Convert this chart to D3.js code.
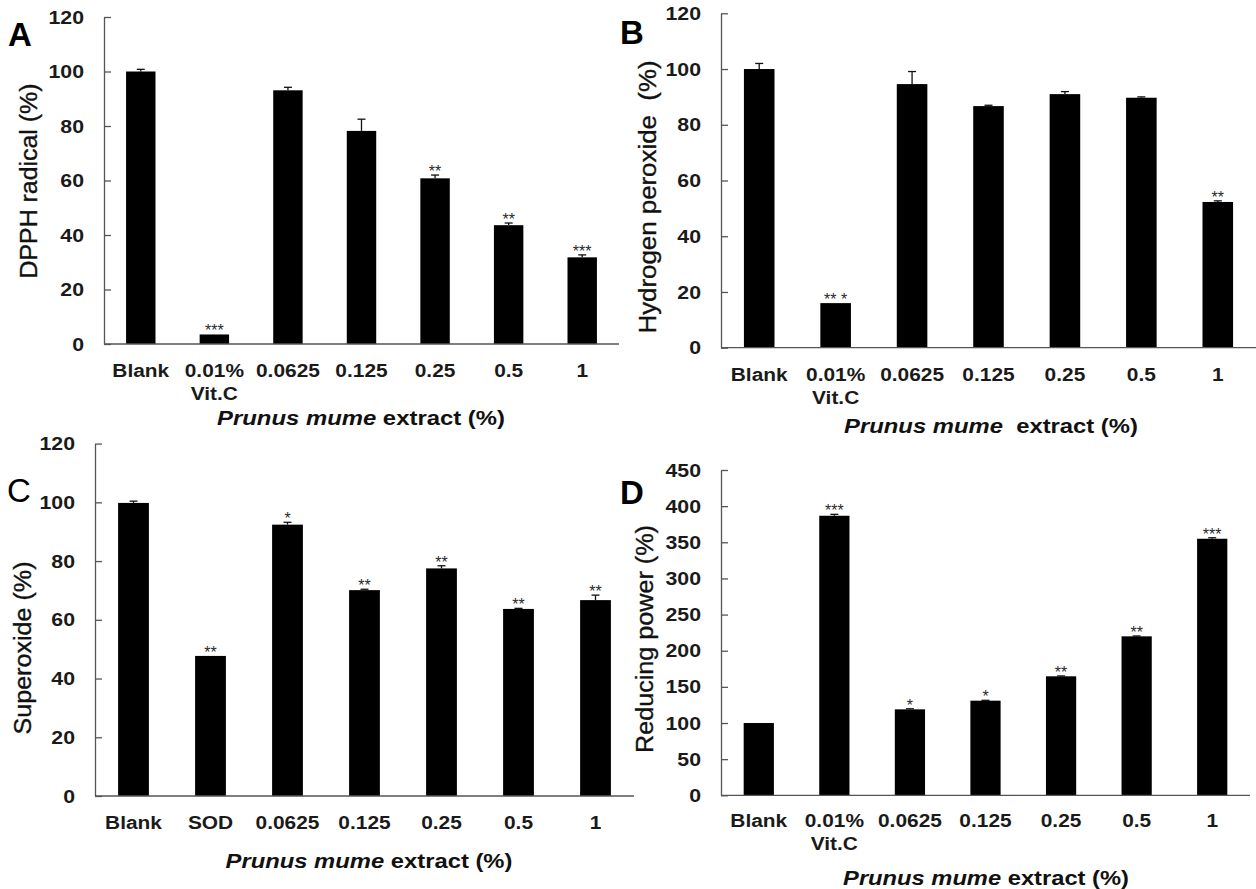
<!DOCTYPE html>
<html>
<head>
<meta charset="utf-8">
<script src="https://cdn.jsdelivr.net/npm/d3@7"></script>
<style>
  body { margin: 0; background: #fff; }
  svg { display: block; font-family: "Liberation Sans", Arial, sans-serif; }
</style>
</head>
<body>
<div id="chart"></div>
<script>
// categories
const labelsVitC = ["Blank", "0.01%\nVit.C", "0.0625", "0.125", "0.25", "0.5", "1"];
const labelsSOD = ["Blank", "SOD", "0.0625", "0.125", "0.25", "0.5", "1"];

// A - DPPH radical
const dpphValues = [100, 3.5, 93.1, 78.2, 60.8, 43.6, 31.8];
const dpphErrors = [0.8, 0, 1.1, 4.3, 1.2, 0.8, 0.9];
const dpphStars = ["", "***", "", "", "**", "**", "***"];

// B - hydrogen peroxide
const h2o2Values = [100, 16, 94.6, 86.7, 91.0, 89.7, 52.3];
const h2o2Errors = [2.0, 0, 4.5, 0.3, 0.9, 0.3, 0.4];
const h2o2Stars = ["", "** *", "", "", "", "", "**"];

// C - superoxide
const superoxideValues = [99.8, 47.7, 92.4, 70.1, 77.5, 63.7, 66.7];
const superoxideErrors = [0.6, 0, 0.8, 0.3, 0.9, 0.2, 1.7];
const superoxideStars = ["", "**", "*", "**", "**", "**", "**"];

// D - reducing power
const reducingValues = [100, 386.7, 118.9, 130.9, 164.6, 219.9, 354.9];
const reducingErrors = [0, 2.0, 0.8, 0.5, 0.5, 0.5, 1.4];
const reducingStars = ["", "***", "*", "*", "**", "**", "***"];

// tick labels
const ticks120 = [0, 20, 40, 60, 80, 100, 120];
const ticks450 = [0, 50, 100, 150, 200, 250, 300, 350, 400, 450];

const svg = d3.select("#chart").append("svg")
    .attr("width", 1256)
    .attr("height", 889);

svg.append("rect").attr("width", 1256).attr("height", 889).attr("fill", "#fff");

// stretch a text group horizontally so it covers the wanted width
function fitWidth(g, target) {
    const w = g.node().getBBox().width;
    const s = target / w;
    const t = g.attr("transform") || "";
    g.attr("transform", `${t} scale(${s},1)`);
}

function drawPanel(cfg) {
    const g = svg.append("g");

    const x = d3.scaleBand()
        .domain(cfg.labels)
        .range([cfg.x0, cfg.x1])
        .paddingInner(0.6)
        .paddingOuter(0.3);

    const y = d3.scaleLinear()
        .domain([0, cfg.yMax])
        .range([cfg.yZero, cfg.yTop]);

    const rows = cfg.labels.map((l, i) => ({
        label: l, value: cfg.values[i], err: cfg.errors[i], star: cfg.stars[i]
    }));

    // bars
    g.selectAll("rect.bar")
        .data(rows)
        .enter()
        .append("rect")
        .attr("class", "bar")
        .attr("x", d => x(d.label))
        .attr("y", d => y(d.value))
        .attr("width", x.bandwidth())
        .attr("height", d => y(0) - y(d.value))
        .attr("fill", "#000");

    // error bars (upper only)
    const eb = g.selectAll("g.err")
        .data(rows.filter(d => d.err > 0))
        .enter()
        .append("g")
        .attr("stroke", "#111")
        .attr("stroke-width", 1.3);

    eb.append("line")
        .attr("x1", d => x(d.label) + x.bandwidth() / 2)
        .attr("x2", d => x(d.label) + x.bandwidth() / 2)
        .attr("y1", d => y(d.value))
        .attr("y2", d => y(d.value + d.err));

    eb.append("line")
        .attr("x1", d => x(d.label) + x.bandwidth() / 2 - 4)
        .attr("x2", d => x(d.label) + x.bandwidth() / 2 + 4)
        .attr("y1", d => y(d.value + d.err))
        .attr("y2", d => y(d.value + d.err));

    // significance stars
    g.selectAll("text.star")
        .data(rows.filter(d => d.star))
        .enter()
        .append("text")
        .attr("x", d => x(d.label) + x.bandwidth() / 2)
        .attr("y", d => y(d.value + d.err) + 2)
        .attr("text-anchor", "middle")
        .attr("font-size", 16)
        .attr("fill", "#2a2a2a")
        .style("white-space", "pre")
        .text(d => d.star);

    // y axis, ticks pointing inward
    const yAxis = g.append("g")
        .attr("transform", `translate(${cfg.x0},0)`)
        .call(d3.axisLeft(y).tickValues(cfg.yTicks).tickSizeInner(-7).tickSizeOuter(0).tickPadding(20));

    yAxis.select(".domain").attr("stroke", "#555").attr("stroke-width", 1.3);
    yAxis.selectAll(".tick line").attr("stroke", "#555").attr("stroke-width", 1.3);
    yAxis.selectAll(".tick text")
        .attr("x", 0)
        .attr("transform", "translate(-20,0) scale(1.12,1)")
        .attr("font-size", 19)
        .attr("font-weight", "bold")
        .attr("fill", "#1a1a1a")
        .attr("font-family", "Liberation Sans, Arial, sans-serif");

    // x axis line
    g.append("line")
        .attr("x1", cfg.x0)
        .attr("x2", cfg.x1)
        .attr("y1", y(0))
        .attr("y2", y(0))
        .attr("stroke", "#555")
        .attr("stroke-width", 1.3);

    // category labels
    rows.forEach(d => {
        const lines = d.label.split("\n");
        lines.forEach((line, k) => {
            const t = g.append("g")
                .attr("transform", `translate(${x(d.label) + x.bandwidth() / 2},${cfg.tickY + k * 23}) scale(1.13,1)`);
            t.append("text")
                .attr("text-anchor", "middle")
                .attr("font-size", 18.5)
                .attr("font-weight", "bold")
                .attr("fill", "#1a1a1a")
                .text(line);
        });
    });

    // x title
    const tg = g.append("g").attr("transform", `translate(${cfg.titleX},${cfg.titleY})`);
    const tt = tg.append("text")
        .attr("text-anchor", "middle")
        .attr("font-size", 20.5)
        .attr("font-weight", "bold")
        .attr("fill", "#111")
        .style("white-space", "pre");
    tt.append("tspan").attr("font-style", "italic").text("Prunus mume");
    tt.append("tspan").text(cfg.titleRest);
    fitWidth(tg, cfg.titleLen);

    // y title
    g.append("text")
        .attr("transform", `translate(${cfg.yLabelX},${cfg.yLabelY}) rotate(-90)`)
        .attr("text-anchor", "middle")
        .attr("font-size", 23)
        .attr("fill", "#111")
        .attr("stroke", "#111")
        .attr("stroke-width", 0.35)
        .attr("textLength", cfg.yLabelLen)
        .attr("lengthAdjust", "spacingAndGlyphs")
        .style("white-space", "pre")
        .text(cfg.yLabel);

    // panel letter
    g.append("text")
        .attr("x", cfg.letterX)
        .attr("y", cfg.letterY)
        .attr("font-size", 33)
        .attr("font-weight", cfg.letterWeight)
        .attr("fill", "#000")
        .text(cfg.letter);
}

drawPanel({
    letter: "A", letterX: 8, letterY: 46, letterWeight: "bold",
    labels: labelsVitC, values: dpphValues, errors: dpphErrors, stars: dpphStars,
    yMax: 120, yTicks: ticks120,
    x0: 104, x1: 619, yZero: 344, yTop: 17,
    tickY: 377,
    titleX: 361, titleY: 425, titleLen: 288, titleRest: " extract (%)",
    yLabel: "DPPH radical (%)", yLabelX: 37, yLabelY: 181, yLabelLen: 195
});

drawPanel({
    letter: "B", letterX: 620, letterY: 44, letterWeight: "bold",
    labels: labelsVitC, values: h2o2Values, errors: h2o2Errors, stars: h2o2Stars,
    yMax: 120, yTicks: ticks120,
    x0: 721, x1: 1256, yZero: 347.7, yTop: 13.3,
    tickY: 381,
    titleX: 991, titleY: 433, titleLen: 294, titleRest: "  extract (%)",
    yLabel: "Hydrogen peroxide  (%)", yLabelX: 656, yLabelY: 197, yLabelLen: 273
});

drawPanel({
    letter: "C", letterX: 7, letterY: 502, letterWeight: "normal",
    labels: labelsSOD, values: superoxideValues, errors: superoxideErrors, stars: superoxideStars,
    yMax: 120, yTicks: ticks120,
    x0: 95, x1: 634, yZero: 796, yTop: 443.6,
    tickY: 829,
    titleX: 369, titleY: 868, titleLen: 287, titleRest: " extract (%)",
    yLabel: "Superoxide (%)", yLabelX: 31, yLabelY: 648, yLabelLen: 173
});

drawPanel({
    letter: "D", letterX: 620, letterY: 504, letterWeight: "bold",
    labels: labelsVitC, values: reducingValues, errors: reducingErrors, stars: reducingStars,
    yMax: 450, yTicks: ticks450,
    x0: 721, x1: 1250, yZero: 795.3, yTop: 470,
    tickY: 827,
    titleX: 986, titleY: 885, titleLen: 286, titleRest: " extract (%)",
    yLabel: "Reducing power (%)", yLabelX: 653, yLabelY: 639, yLabelLen: 228
});
</script>
</body>
</html>
